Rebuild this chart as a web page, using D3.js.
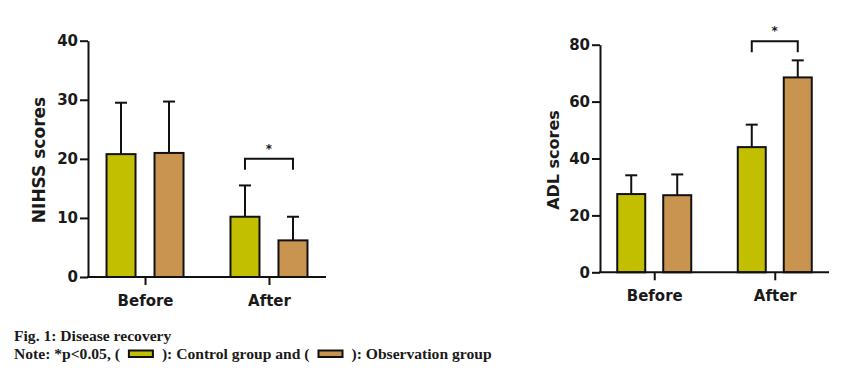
<!DOCTYPE html>
<head>
  <meta charset="utf-8">
  <title>Disease recovery</title>
  <script src="https://d3js.org/d3.v7.min.js"></script>
  <style>
    body { margin: 0; background: #fff; }
    svg text { fill: #1a1a1a; }
  </style>
</head>
<body>
  <div id="chart"></div>
  <script type="text/javascript">

    // categories and groups
    var categories = ['Before', 'After'];
    var groups = ['Control group', 'Observation group'];
    var groupColors = ['#c1bf00', '#c8944f'];

    // NIHSS scores (mean, SD), control then observation
    var nihssControl = [20.8, 10.2];
    var nihssControlSD = [8.7, 5.3];
    var nihssObservation = [21.0, 6.2];
    var nihssObservationSD = [8.7, 4.0];
    var nihssTicks = [0, 10, 20, 30, 40];

    // ADL scores (mean, SD)
    var adlControl = [27.5, 44.0];
    var adlControlSD = [6.6, 7.9];
    var adlObservation = [27.1, 68.5];
    var adlObservationSD = [7.3, 6.0];
    var adlTicks = [0, 20, 40, 60, 80];

    var svg = d3.select('#chart').append('svg')
      .attr('width', 844)
      .attr('height', 377);

    function drawPanel(opt) {
      var x = d3.scalePoint()
        .domain(categories)
        .range([opt.left, opt.right])
        .padding(opt.pad);
      var y = d3.scaleLinear()
        .domain([0, opt.max])
        .range([opt.bottom, opt.top]);
      var inner = d3.scalePoint()
        .domain(groups)
        .range([-opt.offset, opt.offset]);

      var g = svg.append('g');

      // rows for the bars
      var rows = [];
      categories.forEach(function (c, i) {
        rows.push({ cat: c, grp: groups[0], v: opt.control[i], sd: opt.controlSD[i], col: groupColors[0] });
        rows.push({ cat: c, grp: groups[1], v: opt.obs[i], sd: opt.obsSD[i], col: groupColors[1] });
      });

      // error bars (drawn first so the bars cover the lower part)
      var err = g.selectAll('.err').data(rows).enter().append('g');
      err.append('line')
        .attr('x1', function (d) { return x(d.cat) + inner(d.grp); })
        .attr('x2', function (d) { return x(d.cat) + inner(d.grp); })
        .attr('y1', function (d) { return y(d.v); })
        .attr('y2', function (d) { return y(d.v + d.sd); })
        .attr('stroke', '#111').attr('stroke-width', 2);
      err.append('line')
        .attr('x1', function (d) { return x(d.cat) + inner(d.grp) - 6; })
        .attr('x2', function (d) { return x(d.cat) + inner(d.grp) + 6; })
        .attr('y1', function (d) { return y(d.v + d.sd); })
        .attr('y2', function (d) { return y(d.v + d.sd); })
        .attr('stroke', '#111').attr('stroke-width', 2);

      // bars
      g.selectAll('rect.bar').data(rows).enter().append('rect')
        .attr('class', 'bar')
        .attr('x', function (d) { return x(d.cat) + inner(d.grp) - opt.barW / 2; })
        .attr('y', function (d) { return y(d.v); })
        .attr('width', opt.barW)
        .attr('height', function (d) { return y(0) - y(d.v); })
        .attr('fill', function (d) { return d.col; })
        .attr('stroke', '#111')
        .attr('stroke-width', 2);

      // y axis
      var yAxis = g.append('g')
        .attr('transform', 'translate(' + opt.left + ',0)')
        .call(d3.axisLeft(y).tickValues(opt.ticks).tickSize(opt.tick).tickPadding(2).tickSizeOuter(0));
      // x axis
      var xAxis = g.append('g')
        .attr('transform', 'translate(0,' + opt.bottom + ')')
        .call(d3.axisBottom(x).tickSize(opt.tick).tickPadding(opt.catPad).tickSizeOuter(0));
      xAxis.select('.domain').attr('d', 'M' + (opt.left - 1) + ',0H' + opt.axisEnd);

      [yAxis, xAxis].forEach(function (a) {
        a.selectAll('.domain, line').attr('stroke', '#111').attr('stroke-width', 2);
        a.selectAll('text')
          .attr('fill', '#1a1a1a')
          .style('font-family', 'DejaVu Sans, sans-serif')
          .style('font-weight', 'bold')
          .style('font-size', '15px');
      });

      // y axis title
      g.append('text')
        .attr('transform', 'translate(' + opt.titleX + ',' + opt.titleY + ') rotate(-90)')
        .attr('text-anchor', 'middle')
        .style('font-family', 'DejaVu Sans, sans-serif')
        .style('font-weight', 'bold')
        .style('font-size', opt.titleSize + 'px')
        .text(opt.title);

      // significance bracket over the After pair
      var bx0 = x('After') + inner(groups[0]);
      var bx1 = x('After') + inner(groups[1]);
      var by = y(opt.bracket);
      g.append('path')
        .attr('d', 'M' + bx0 + ',' + (by + opt.leg) + 'V' + by + 'H' + bx1 + 'V' + (by + opt.leg))
        .attr('fill', 'none')
        .attr('stroke', '#111')
        .attr('stroke-width', 2);
      g.append('text')
        .attr('x', (bx0 + bx1) / 2)
        .attr('y', by - 6)
        .attr('text-anchor', 'middle')
        .style('font-family', 'DejaVu Sans, sans-serif')
        .style('font-weight', 'bold')
        .style('font-size', '12px')
        .text('*');
    }

    drawPanel({
      left: 88, right: 326, axisEnd: 326, pad: 0.46, top: 40.7, bottom: 277, max: 40,
      offset: 24, barW: 29, tick: 8, catPad: 10,
      control: nihssControl, controlSD: nihssControlSD,
      obs: nihssObservation, obsSD: nihssObservationSD,
      ticks: nihssTicks, title: 'NIHSS scores', titleX: 45, titleY: 160, titleSize: 17,
      bracket: 20, leg: 11
    });

    drawPanel({
      left: 600, right: 829, axisEnd: 829, pad: 0.45, top: 44.7, bottom: 272.3, max: 80,
      offset: 23, barW: 28, tick: 8, catPad: 10,
      control: adlControl, controlSD: adlControlSD,
      obs: adlObservation, obsSD: adlObservationSD,
      ticks: adlTicks, title: 'ADL scores', titleX: 559, titleY: 160, titleSize: 16,
      bracket: 81.2, leg: 11
    });

    // caption
    var capFont = 'Liberation Serif, Times New Roman, serif';
    var capSize = '15.6px';
    svg.append('text')
      .attr('x', 14).attr('y', 341)
      .style('font-family', capFont).style('font-weight', 'bold').style('font-size', capSize)
      .text('Fig. 1: Disease recovery');

    var notePieces = [
      { t: 'Note: *p<0.05, (' },
      { swatch: 0 },
      { t: '): Control group and (' },
      { swatch: 1 },
      { t: '): Observation group' }
    ];
    var cx = 14;
    notePieces.forEach(function (p) {
      if (p.t) {
        var t = svg.append('text')
          .attr('x', cx).attr('y', 359)
          .style('font-family', capFont).style('font-weight', 'bold').style('font-size', capSize)
          .text(p.t);
        cx += t.node().getComputedTextLength();
      } else {
        svg.append('rect')
          .attr('x', cx + 9).attr('y', 350.5)
          .attr('width', 24).attr('height', 6.5)
          .attr('fill', groupColors[p.swatch])
          .attr('stroke', '#111').attr('stroke-width', 2);
        cx += 42;
      }
    });
  </script>
</body>
